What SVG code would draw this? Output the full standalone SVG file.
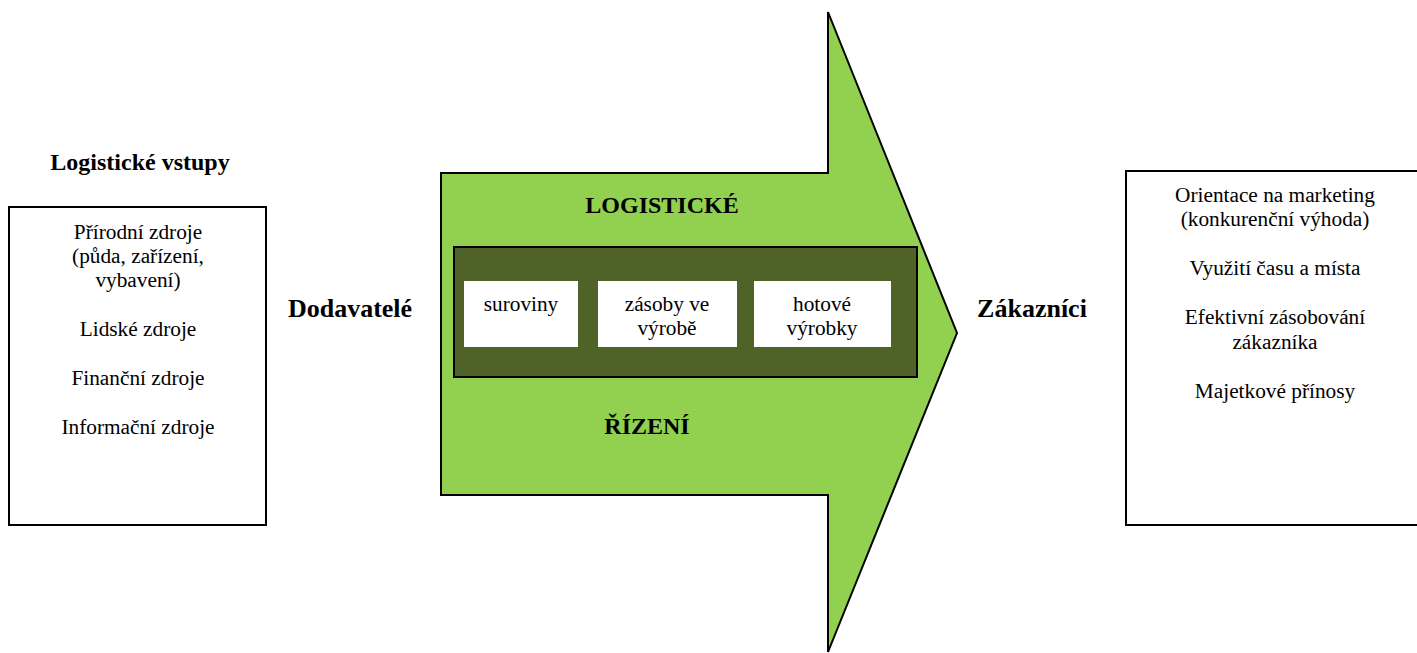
<svg xmlns="http://www.w3.org/2000/svg" width="1417" height="653" viewBox="0 0 1417 653">
  <style>
    text { font-family: 'Liberation Serif', 'Times New Roman', serif; fill: #000; text-anchor: middle; }
    .t { font-size: 21.3px; }
    .h { font-size: 24px; font-weight: bold; }
    .b { font-size: 26px; font-weight: bold; }
    .box { fill: #fff; stroke: #000; stroke-width: 2; }
  </style>
  <rect width="1417" height="653" fill="#fff"/>

  <!-- Logistické vstupy -->
  <g id="inputs">
    <text class="h" x="140" y="170">Logistické vstupy</text>
    <rect class="box" x="9" y="207" width="257" height="318"/>
    <text class="t" x="138" y="239">Přírodní zdroje</text>
    <text class="t" x="138" y="263">(půda, zařízení,</text>
    <text class="t" x="138" y="287">vybavení)</text>
    <text class="t" x="138" y="336">Lidské zdroje</text>
    <text class="t" x="138" y="385">Finanční zdroje</text>
    <text class="t" x="138" y="434">Informační zdroje</text>
  </g>

  <g id="suppliers">
    <text class="b" x="350" y="317">Dodavatelé</text>
  </g>

  <!-- Big process arrow -->
  <g id="process">
    <polygon points="441,173 828,173 828,12 957,333 828,652 828,495 441,495" fill="#92d050" stroke="#000" stroke-width="2" stroke-linejoin="miter"/>
    <text class="h" x="662" y="213">LOGISTICKÉ</text>
    <rect x="454" y="247" width="463" height="130" fill="#4f6228" stroke="#000" stroke-width="2"/>
    <g id="raw">
      <rect x="464" y="281" width="114" height="66" fill="#fff"/>
      <text class="t" x="521" y="311">suroviny</text>
    </g>
    <g id="wip">
      <rect x="598" y="281" width="139" height="66" fill="#fff"/>
      <text class="t" x="667" y="311">zásoby ve</text>
      <text class="t" x="667" y="335">výrobě</text>
    </g>
    <g id="finished">
      <rect x="754" y="281" width="137" height="66" fill="#fff"/>
      <text class="t" x="822" y="311">hotové</text>
      <text class="t" x="822" y="335">výrobky</text>
    </g>
    <text class="h" x="647" y="434">ŘÍZENÍ</text>
  </g>

  <g id="customers">
    <text class="b" x="1032" y="317">Zákazníci</text>
  </g>

  <!-- Outputs -->
  <g id="outputs">
    <rect class="box" x="1126" y="171" width="292" height="354"/>
    <text class="t" x="1275" y="202">Orientace na marketing</text>
    <text class="t" x="1275" y="226">(konkurenční výhoda)</text>
    <text class="t" x="1275" y="275">Využití času a místa</text>
    <text class="t" x="1275" y="324">Efektivní zásobování</text>
    <text class="t" x="1275" y="349">zákazníka</text>
    <text class="t" x="1275" y="398">Majetkové přínosy</text>
  </g>
</svg>
